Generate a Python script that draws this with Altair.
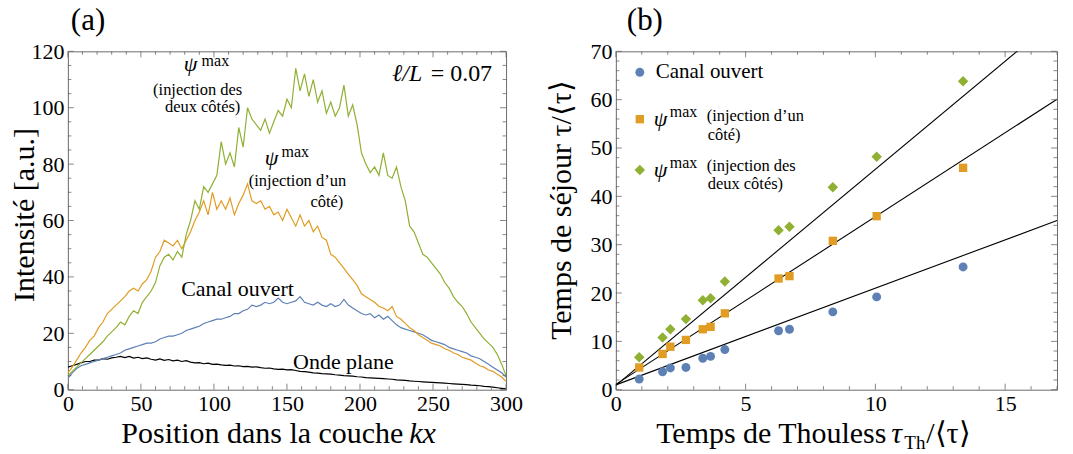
import altair as alt
import pandas as pd

FONT = "Liberation Serif"
BLUE, ORANGE, GREEN = "#5E81B5", "#E19C24", "#8FB032"
FRAME = "#6a6a6a"

# ---------------- Panel (a) data ----------------
kx = list(range(0, 301, 3))
psi_deux = [5, 6.5, 8, 9.5, 11, 12.5, 14, 15.5, 17, 19,
            20.5, 22, 24, 23, 26, 28, 27, 31, 33, 35,
            38, 44, 47, 48, 46, 49, 47, 55, 60, 67,
            64, 72, 70, 73, 76, 88, 80, 84, 79, 93,
            86, 100, 96, 94, 92, 96, 91, 95, 99, 97,
            103, 100, 114, 106, 112, 104, 110, 102, 106, 98,
            102, 97, 100, 108, 97, 101, 94, 84, 80, 77,
            79, 76, 84, 76, 75, 79, 72, 67, 58, 56,
            52, 48, 47, 45, 43, 41, 38, 36, 33, 31,
            29.5, 27, 24, 22, 20, 18, 16.5, 15, 12.5, 9, 5]
psi_un = [6, 8, 10.5, 13, 15, 17.5, 19, 22, 24, 27,
          28.5, 30, 31.5, 33, 35, 36, 35, 37.5, 39, 42,
          47, 49, 53, 52, 51, 53, 50, 53, 56, 60,
          63, 67, 62, 70, 64, 67, 64, 68, 62, 66,
          69, 73, 67, 66, 67, 64, 65, 62, 63, 60,
          64, 61, 58, 62, 58, 60, 56, 58, 54, 53,
          48, 47, 45, 43, 41, 39, 37, 34, 33, 32,
          31, 29.5, 29, 28, 29.5, 26, 25, 23.5, 22, 21,
          19.5, 18.5, 17.5, 16.5, 16, 15.5, 14.5, 14, 13, 12.5,
          11.5, 11, 10.5, 9.5, 8.5, 8, 7, 6.5, 5.5, 4.5, 3]
canal = [4, 6, 7.5, 8.5, 9, 9.5, 10, 10.5, 11, 11.5,
         12, 12.5, 13, 14, 14.5, 15, 15.5, 16, 16.5, 16.5,
         17, 18, 18.5, 19, 19, 19.5, 20, 21, 21.5, 22,
         22.5, 23.5, 24, 24.5, 25, 25, 25.5, 26, 27, 27,
         28, 28.5, 30, 29.5, 30, 31, 30.5, 31, 32.5, 31,
         30.5, 31, 31.5, 33, 31, 30.5, 30, 31, 30, 29.5,
         30.5, 29.5, 30, 32, 30, 29, 28, 27, 26.5, 27,
         25.5, 26.5, 25, 26, 24.5, 23, 22, 21.5, 21, 20.5,
         20, 19.5, 18.5, 17.5, 17, 16.5, 16, 15, 14.5, 14,
         13.5, 13, 12, 11.5, 11, 10, 9, 8, 7, 6, 4.5]
onde = [8, 8.5, 9, 9.5, 10, 10, 10.5, 10.5, 11, 10.8,
        11.3, 11.5, 11.8, 11.4, 11.8, 11.2, 11.5, 11, 11.3, 10.8,
        10.5, 10.9, 10.4, 10.7, 10.2, 10.5, 10, 10.3, 9.8, 9.5,
        9.6, 9.2, 9.4, 9, 9.1, 8.8, 8.6, 8.7, 8.4, 8.5,
        8.2, 8.3, 8, 8.1, 7.8, 7.6, 7.7, 7.4, 7.2, 7.3,
        7, 7.1, 6.8, 6.5, 6.4, 6.2, 6, 5.9, 5.7, 5.6,
        5.5, 5.3, 5.2, 5, 4.9, 4.8, 4.6, 4.5, 4.3, 4.2,
        4.1, 4, 3.9, 3.8, 3.7, 3.5, 3.4, 3.3, 3.1, 3,
        2.9, 2.8, 2.7, 2.6, 2.5, 2.4, 2.3, 2.2, 2.1, 2,
        1.9, 1.8, 1.6, 1.5, 1.4, 1.2, 1.1, 0.9, 0.7, 0.5, 0.3]

# ---------------- Panel (b) data ----------------
tau_th = [0.9, 1.8, 2.1, 2.7, 3.35, 3.65, 4.2, 6.27, 6.69, 8.36, 10.05, 13.38]
tau_canal = [2.2, 3.7, 4.5, 4.6, 6.5, 6.9, 8.3, 12.2, 12.5, 16.1, 19.2, 25.4]
tau_un = [4.6, 7.4, 8.9, 10.3, 12.5, 13.0, 15.8, 23.0, 23.5, 30.8, 35.9, 45.9]
tau_deux = [6.7, 10.8, 12.5, 14.6, 18.5, 18.9, 22.4, 33.0, 33.7, 41.9, 48.2, 63.8]
fit_names = ["canal", "un", "deux"]
fit_intercept = [1.0, 1.1, 0.9]
fit_slope = [2.0, 3.47, 4.47]
fit_x = [0, 17]

W1, W2, H = 439, 442, 339


def axis(vals):
    return alt.Axis(values=vals, title=None, domain=False, ticks=False, grid=False,
                    labelFont=FONT, labelFontSize=22, labelColor="black",
                    labelFlush=False, labelOverlap=False, labelPadding=4)


def frame_ticks(xmaj, xmin, ymaj, ymin, xs, ys, ax, ay, W, L=6, l=3.5):
    layers = []
    for vals, ln in ((xmaj, L), (xmin, l)):
        base = alt.Chart(pd.DataFrame({"t": vals})).mark_rule(color=FRAME, strokeWidth=0.8)
        layers.append(base.encode(x=alt.X("t:Q", scale=xs, axis=ax), y=alt.value(H), y2=alt.value(H - ln)))
        layers.append(base.encode(x=alt.X("t:Q", scale=xs, axis=ax), y=alt.value(0), y2=alt.value(ln)))
    for vals, ln in ((ymaj, L), (ymin, l)):
        base = alt.Chart(pd.DataFrame({"t": vals})).mark_rule(color=FRAME, strokeWidth=0.8)
        layers.append(base.encode(y=alt.Y("t:Q", scale=ys, axis=ay), x=alt.value(0), x2=alt.value(ln)))
        layers.append(base.encode(y=alt.Y("t:Q", scale=ys, axis=ay), x=alt.value(W), x2=alt.value(W - ln)))
    return layers


_one = pd.DataFrame({"a": [0]})


def txt(s, x, y, size, align="left", italic=False, angle=0, baseline="alphabetic"):
    kw = dict(text=s, font=FONT, fontSize=size, align=align, baseline=baseline, color="black")
    if italic:
        kw["fontStyle"] = "italic"
    if angle:
        kw["angle"] = angle
    return alt.Chart(_one).mark_text(**kw).encode(x=alt.value(x), y=alt.value(y))


def bound_box(x1, y1, x2, y2):
    return alt.Chart(_one).mark_rule(strokeOpacity=0, opacity=0).encode(
        x=alt.value(x1), x2=alt.value(x2), y=alt.value(y1), y2=alt.value(y2))


# ---------------- Panel (a) ----------------
names_a = ["onde", "canal", "un", "deux"]
df_a = pd.concat([
    pd.DataFrame({"kx": kx, "v": onde, "s": "onde"}),
    pd.DataFrame({"kx": kx, "v": canal, "s": "canal"}),
    pd.DataFrame({"kx": kx, "v": psi_un, "s": "un"}),
    pd.DataFrame({"kx": kx, "v": psi_deux, "s": "deux"}),
])
xs_a = alt.Scale(domain=[0, 300], nice=False, zero=False)
ys_a = alt.Scale(domain=[0, 120], nice=False, zero=False)
ax_a = axis([0, 50, 100, 150, 200, 250, 300])
ay_a = axis([0, 20, 40, 60, 80, 100, 120])

lines_a = alt.Chart(df_a).mark_line(strokeWidth=1.2, clip=True).encode(
    x=alt.X("kx:Q", scale=xs_a, axis=ax_a),
    y=alt.Y("v:Q", scale=ys_a, axis=ay_a),
    color=alt.Color("s:N", scale=alt.Scale(domain=names_a, range=["black", BLUE, ORANGE, GREEN]), legend=None),
    order=alt.Order("kx:Q"),
)

ticks_a = frame_ticks([50 * i for i in range(7)], [v for v in range(0, 301, 10) if v % 50],
                      [20 * i for i in range(7)], [v for v in range(0, 121, 5) if v % 20],
                      xs_a, ys_a, ax_a, ay_a, W1)

texts_a = [
    txt("(a)", 3, -21, 31),
    txt("Intensité [a.u.]", -43, 164, 30, align="center", angle=270, baseline="middle"),
    txt("Position dans la couche", 336, 392, 30, align="right"),
    txt("kx", 342, 392, 30, italic=True),
    txt("ψ", 123, 20, 22, align="center", italic=True),
    txt("max", 134, 15, 16),
    txt("(injection des", 130, 44, 16.5, align="center"),
    txt("deux côtés)", 135, 61, 16.5, align="center"),
    txt("ψ", 204, 114, 22, align="center", italic=True),
    txt("max", 214, 106, 16),
    txt("(injection d’un", 230, 135, 16.5, align="center"),
    txt("côté)", 276, 156, 16.5, align="right"),
    txt("Canal ouvert", 170, 245, 22, align="center"),
    txt("Onde plane", 276, 318, 22, align="center"),
    txt("ℓ/L", 355, 30, 24, align="right", italic=True),
    txt("= 0.07", 425, 30, 24, align="right"),
]

left = alt.layer(lines_a, *ticks_a, *texts_a, bound_box(-67, -50, 0, H)).properties(width=W1, height=H)

# ---------------- Panel (b) ----------------
xs_b = alt.Scale(domain=[0, 17], nice=False, zero=False)
ys_b = alt.Scale(domain=[0, 70], nice=False, zero=False)
ax_b = axis([0, 5, 10, 15])
ay_b = axis([0, 10, 20, 30, 40, 50, 60, 70])

df_fit = pd.concat([
    pd.DataFrame({"x": fit_x, "y": [a + b * x for x in fit_x], "s": n})
    for n, a, b in zip(fit_names, fit_intercept, fit_slope)
])
fits = alt.Chart(df_fit).mark_line(color="black", strokeWidth=1.1, clip=True).encode(
    x=alt.X("x:Q", scale=xs_b, axis=ax_b),
    y=alt.Y("y:Q", scale=ys_b, axis=ay_b),
    detail="s:N",
)
df_b = pd.DataFrame({"t": tau_th, "c": tau_canal, "u": tau_un, "d": tau_deux})
pts_c = alt.Chart(df_b).mark_circle(size=80, color=BLUE, opacity=1).encode(
    x=alt.X("t:Q", scale=xs_b, axis=ax_b), y=alt.Y("c:Q", scale=ys_b, axis=ay_b))
pts_u = alt.Chart(df_b).mark_square(size=70, color=ORANGE, opacity=1).encode(
    x=alt.X("t:Q", scale=xs_b, axis=ax_b), y=alt.Y("u:Q", scale=ys_b, axis=ay_b))
pts_d = alt.Chart(df_b).mark_point(shape="diamond", filled=True, size=110, color=GREEN, opacity=1).encode(
    x=alt.X("t:Q", scale=xs_b, axis=ax_b), y=alt.Y("d:Q", scale=ys_b, axis=ay_b))

leg = [
    alt.Chart(_one).mark_circle(size=80, color=BLUE, opacity=1).encode(x=alt.value(24), y=alt.value(21)),
    alt.Chart(_one).mark_square(size=70, color=ORANGE, opacity=1).encode(x=alt.value(24), y=alt.value(68)),
    alt.Chart(_one).mark_point(shape="diamond", filled=True, size=110, color=GREEN, opacity=1).encode(
        x=alt.value(24), y=alt.value(119)),
    txt("Canal ouvert", 40, 27, 21),
    txt("ψ", 38, 75, 22, italic=True),
    txt("max", 54, 66, 16),
    txt("(injection d’un", 91, 70, 16.5),
    txt("côté)", 92, 89, 16.5),
    txt("ψ", 38, 126, 22, italic=True),
    txt("max", 54, 117, 16),
    txt("(injection des", 91, 120, 16.5),
    txt("deux côtés)", 92, 138, 16.5),
]

ticks_b = frame_ticks([0, 5, 10, 15], [v for v in range(0, 18) if v % 5],
                      [10 * i for i in range(8)], [v for v in range(0, 71, 2) if v % 10],
                      xs_b, ys_b, ax_b, ay_b, W2)

texts_b = [
    txt("(b)", 11, -21, 31),
    txt("Temps de séjour τ/⟨τ⟩", -54, 159, 30, align="center", angle=270, baseline="middle"),
    txt("Temps de Thouless", 271, 392, 30, align="right"),
    txt("τ", 276, 392, 30, italic=True),
    txt("Th", 289, 398, 19),
    txt("/⟨τ⟩", 311, 392, 30),
]

right = alt.layer(fits, pts_c, pts_u, pts_d, *ticks_b, *leg, *texts_b,
                  bound_box(W2, 0, W2 + 15, H + 65)).properties(width=W2, height=H)

chart = alt.hconcat(left, right, spacing=110, bounds="flush").properties(padding=0).configure_view(
    stroke=FRAME, strokeWidth=1)

chart.save("out.html", embed_options={"renderer": "svg", "actions": False})
